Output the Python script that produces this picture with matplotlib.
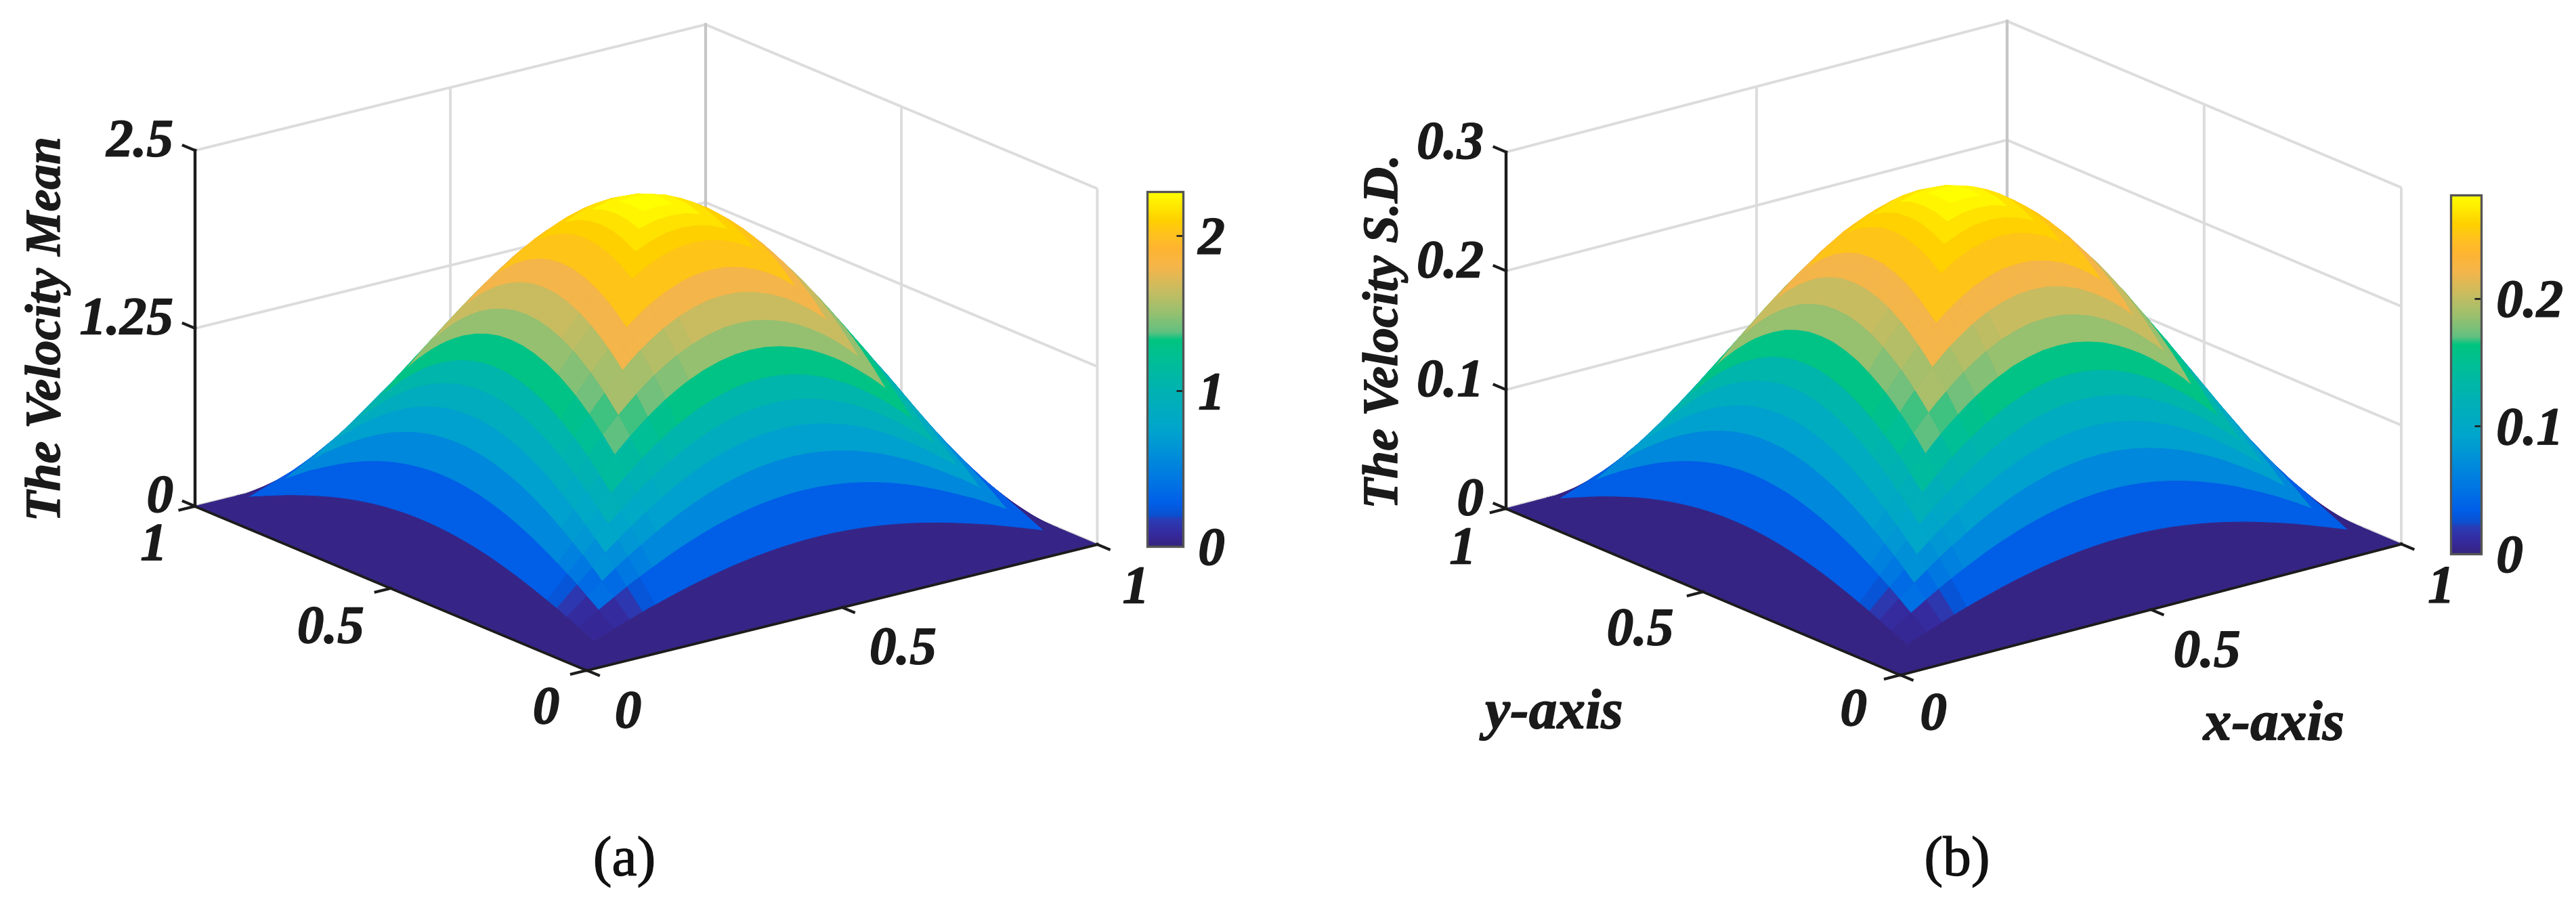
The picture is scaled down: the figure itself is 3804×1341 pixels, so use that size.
import numpy as np
import matplotlib
matplotlib.use('Agg')
import matplotlib.pyplot as plt
import matplotlib.patheffects as pe
from matplotlib.colors import LinearSegmentedColormap, Normalize
from matplotlib.cm import ScalarMappable
from mpl_toolkits.mplot3d import proj3d

W, H = 3805, 1341
SERIF = 'Liberation Serif'
INK = '#1a1a1a'
HEAVY = [pe.withStroke(linewidth=1.0, foreground=INK)]

# mesh rows (lower half; the surface is mirrored about 0.5)
half_mesh = [0, .03, .06, .08, .10, .115, .13, .1425, .155, .1675, .18, .1925, .205, .22, .235, .25, .265,
             .2825, .30, .3175, .335, .3575, .38, .41, .44, .47, .5]
# surface height along the mid-section at those rows
mean_profile = [0, .215, .427, .568, .705, .806, .906, .991, 1.075, 1.155, 1.224, 1.298, 1.37, 1.454, 1.536,
                1.614, 1.689, 1.769, 1.847, 1.918, 1.984, 2.057, 2.123, 2.192, 2.242, 2.274, 2.283]
sd_profile = [0, .026, .053, .07, .087, .099, .112, .122, .132, .142, .151, .16, .169, .179, .189, .199, .208,
              .218, .227, .236, .244, .253, .261, .27, .276, .28, .281]
# where one colour band ends and the next starts, edge towards summit
band_edges = [.06, .10, .13, .155, .18, .205, .235, .265, .30, .335, .38, .41, .44, .47]
# colour value of each band, from the edge to the summit
mean_bands = [.02, .28, .55, .72, .88, 1.05, 1.30, 1.50, 1.65, 1.80, 2.02, 2.10, 2.17, 2.24, 2.283]
sd_bands = [.002, .034, .068, .089, .108, .129, .16, .185, .203, .222, .249, .259, .267, .276, .281]
mean_ticks = [0, 1.25, 2.5]
sd_ticks = [0, .1, .2, .3]
xy_ticks = [0, .5, 1]

bar_positions = [0, .08, .17, .20, .28, .40, .55, .75, 1.0, 1.2, 1.33, 1.38, 1.5, 1.65, 1.8, 1.92, 2.0, 2.1, 2.283]
bar_colors = ['#36237F', '#352A9E', '#2A3CB5', '#0A50D0', '#005FE8', '#0072E4', '#0088DC', '#00A5CC',
              '#00B2B2', '#00BE96', '#00C480', '#60C080', '#95C070', '#C8BC60', '#F4B54A', '#FFB430',
              '#FFC020', '#FFD000', '#FFFF00']
cmap_pts = [(p / bar_positions[-1], c) for p, c in zip(bar_positions, bar_colors)]
CMAP = LinearSegmentedColormap.from_list('bands', cmap_pts, N=512)

plt.rcParams['font.family'] = [SERIF]
fig = plt.figure(figsize=(W / 100, H / 100), dpi=100, facecolor='white')


def panel(profile, bands, zticks, zlabels, vmax, cb_ticks, cb_labels, cfg):
    ax = fig.add_axes([.1, .1, .4, .4], projection='3d', computed_zorder=False)
    ax.set_proj_type('ortho')
    ax.view_init(elev=cfg['elev'], azim=cfg['azim'])
    ax.set_box_aspect((1, 1, cfg['zasp']))
    ax.set_xlim(0, 1); ax.set_ylim(0, 1); ax.set_zlim(0, zticks[-1])
    ax.set_xticks(xy_ticks); ax.set_yticks(xy_ticks); ax.set_zticks(zticks)
    ax.set_xticklabels([]); ax.set_yticklabels([]); ax.set_zticklabels([])
    ax.patch.set_alpha(0)

    for axis in (ax.xaxis, ax.yaxis, ax.zaxis):
        axis.set_pane_color((1, 1, 1, 0))
        axis.pane.set_edgecolor('none')
        info = axis._axinfo
        info['grid'].update(color='#DCDCDC', linewidth=2.8, linestyle='-')
        info['tick'].update(inward_factor=0, outward_factor=0, linewidth={True: 0, False: 0}, color='#1c1c1c')
        info['axisline'].update(linewidth=3.2, color='#1c1c1c')
        axis.line.set_linewidth(3.2); axis.line.set_color('#1c1c1c')
    ax.zaxis.set_ticks_position('upper')
    ax.plot([1, 1], [1, 1], [0, zticks[-1]], color='#C6C6C6', lw=3, zorder=1)

    mesh = np.array(half_mesh + [1 - v for v in half_mesh[-2::-1]])
    prof = np.array(profile + profile[-2::-1])
    X, Y = np.meshgrid(mesh, mesh)
    Z = np.outer(prof, prof) / max(profile)

    n = len(mesh) - 1
    band = np.array(bands)
    row_band = np.searchsorted(band_edges, np.array(half_mesh[:-1]), side='right')
    C = np.zeros((n, n))
    dip = {0: .6, 1: .7, 2: .4, 3: .2}
    dip_low = {0: .85, 1: .75, 2: .5, 3: .2}
    for i in range(n):
        for j in range(n):
            ri, rj = row_band[min(i, n - 1 - i)], row_band[min(j, n - 1 - j)]
            lo, hi = min(ri, rj), max(ri, rj)
            same_side = (i < n / 2) == (j < n / 2)
            w = (dip_low if lo == 1 else dip).get(hi - lo, 0) if same_side else 0
            if lo >= 9:
                w = 0
            C[j, i] = band[lo] - w * (band[lo] - band[max(lo - 1, 0)])
    norm = Normalize(0, vmax)
    ax.plot_surface(X, Y, Z, rstride=1, cstride=1, facecolors=CMAP(norm(C)), shade=False,
                    linewidth=.8, antialiased=True, zorder=5)

    # fit the square axes box to the measured corner pixels of the plot box
    fig.canvas.draw()
    M = ax.get_proj()
    corners = [(0, 0, 0), (1, 0, 0), (0, 1, 0), (0, 1, zticks[-1]), (1, 1, zticks[-1])]
    targets = np.array(cfg['corners'], float)
    targets[:, 1] = H - targets[:, 1]
    px, py, _ = proj3d.proj_transform(*np.array(corners).T, M)
    u = ax.transAxes.inverted().transform(ax.transData.transform(np.c_[px, py]))
    um = u.mean(0); tm = targets.mean(0)
    s = ((u - um) * (targets - tm)).sum() / ((u - um) ** 2).sum()
    o = tm - s * um
    ax.set_position([o[0] / W, o[1] / H, s / W, s / H])
    fig.canvas.draw()
    M = ax.get_proj()

    def lab(x, y, z, text, off, ha='center'):
        a, b, _ = proj3d.proj_transform(x, y, z, M)
        ax.annotate(text, xy=(a, b), xycoords='data', xytext=off, textcoords='offset pixels',
                    ha=ha, va='center', fontsize=57, fontweight='bold', fontstyle='italic',
                    color=INK, annotation_clip=False, family=SERIF, path_effects=HEAVY)

    names = ['0', '0.5', '1']
    for t, name, off in zip(xy_ticks, names, cfg['xoff']):
        lab(t, 0, 0, name, off)
    for t, name, off in zip(xy_ticks, names, cfg['yoff']):
        lab(0, t, 0, name, off)
    for t, name in zip(zticks, zlabels):
        lab(0, 1, t, name, cfg['zoff'], ha='right')

    # bold front edges and tick marks stay visible above the surface
    edge = dict(color='#1c1c1c', zorder=6)
    ax.plot([0, 1], [0, 0], [0, 0], lw=2.2, **edge)
    ax.plot([0, 0], [0, 1], [0, 0], lw=2.2, **edge)
    tick_len = .03
    for t in xy_ticks:
        ax.plot([t, t], [0, -tick_len], [0, 0], lw=3, **edge)
        ax.plot([0, -tick_len], [t, t], [0, 0], lw=3, **edge)
    for t in zticks:
        ax.plot([0, 0], [1, 1 + tick_len], [t, t], lw=3, **edge)

    x0, x1, y0, y1 = cfg['bar']
    cax = fig.add_axes([x0 / W, 1 - y1 / H, (x1 - x0) / W, (y1 - y0) / H])
    cb = fig.colorbar(ScalarMappable(norm=norm, cmap=CMAP), cax=cax)
    cb.set_ticks(cb_ticks, labels=cb_labels)
    cb.ax.tick_params(direction='in', length=7, width=2, color='#222222', pad=16, labelsize=57)
    for t in cb.ax.get_yticklabels():
        t.set_fontweight('bold'); t.set_fontstyle('italic'); t.set_color(INK); t.set_family(SERIF)
        t.set_path_effects(HEAVY)
    cb.outline.set_edgecolor('#555555'); cb.outline.set_linewidth(2.4)

    fig.text(cfg['zlab'][0] / W, 1 - cfg['zlab'][1] / H, cfg['ztitle'], rotation=90, ha='center', va='center',
             fontsize=53, fontweight='bold', fontstyle='italic', color=INK, family=SERIF, path_effects=HEAVY)
    fig.text(cfg['cap'][0] / W, 1 - cfg['cap'][1] / H, cfg['caption'], ha='center', va='center', fontsize=60,
             color='#111111', family=SERIF, path_effects=[pe.withStroke(linewidth=.9, foreground='#111111')])


panel(mean_profile, mean_bands, mean_ticks, ['0', '1.25', '2.5'], 2.283, [0, 1, 2], ['0', '1', '2'],
      dict(elev=18.75, azim=-127.5, zasp=.584,
           corners=[(866, 990), (1621, 804), (288, 747), (288, 221), (1042, 38)],
           xoff=[(61, -66), (90, -65), (57, -68)], yoff=[(-60, -60), (-89, -62), (-61, -61)], zoff=(-32, 10),
           bar=(1694, 1747, 283, 807), zlab=(70, 486), ztitle='The Velocity Mean', cap=(922, 1273), caption='(a)'))
panel(sd_profile, sd_bands, sd_ticks, ['0', '0.1', '0.2', '0.3'], .281, [0, .1, .2], ['0', '0.1', '0.2'],
      dict(elev=19.4, azim=-128.2, zasp=.593,
           corners=[(2805, 996), (3546, 804), (2222, 748), (2222, 221), (2969, 38)],
           xoff=[(49, -62), (83, -66), (59, -68)], yoff=[(-69, -56), (-93, -60), (-64, -63)], zoff=(-33, 9),
           bar=(3619, 3664, 288, 818), zlab=(2045, 490), ztitle='The Velocity S.D.', cap=(2890, 1273), caption='(b)'))

fig.text(2295 / W, 1 - 1056 / H, 'y-axis', ha='center', va='center', fontsize=60, fontweight='bold',
         fontstyle='italic', color=INK, family=SERIF, path_effects=HEAVY)
fig.text(3358 / W, 1 - 1073 / H, 'x-axis', ha='center', va='center', fontsize=60, fontweight='bold',
         fontstyle='italic', color=INK, family=SERIF, path_effects=HEAVY)

fig.savefig('out.png', dpi=100)
